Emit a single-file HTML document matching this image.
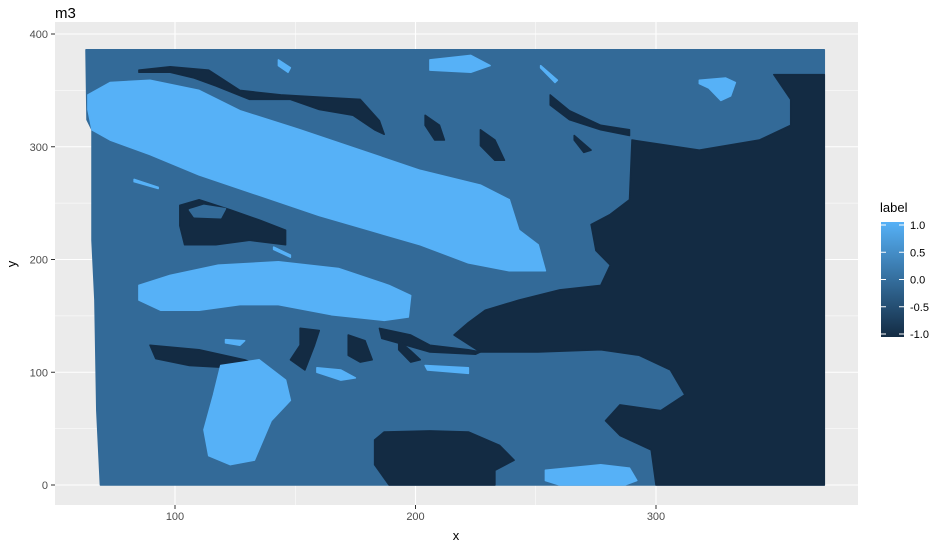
<!DOCTYPE html>
<html><head><meta charset="utf-8"><style>
body{margin:0;background:#fff;font-family:"Liberation Sans",sans-serif}
</style></head><body>
<svg width="947" height="550" xmlns="http://www.w3.org/2000/svg">
<defs><linearGradient id="cb" x1="0" y1="1" x2="0" y2="0"><stop offset="0" stop-color="#132B43"/><stop offset="1" stop-color="#56B1F7"/></linearGradient></defs>
<text x="55" y="18" font-size="15" fill="#000">m3</text>
<rect x="55" y="22" width="803" height="483" fill="#EBEBEB"/>
<g id="grid"></g>
<g id="marks"></g>
<g id="axes"></g>
<text x="456" y="540" font-size="13" text-anchor="middle">x</text>
<text x="16" y="264" font-size="13" text-anchor="middle" transform="rotate(-90 16 264)">y</text>
<g>
<text x="880" y="212" font-size="13">label</text>
<rect x="881" y="222" width="23" height="115" fill="url(#cb)"/>
<g id="legend"></g>
</g>
</svg>
<script>
const xTicks=[100,200,300];
const yTicks=[0,100,200,300,400];
const legendTicks=[1.0,0.5,0.0,-0.5,-1.0];
const legendLabels=["1.0","0.5","0.0","-0.5","-1.0"];
const regionLabels=[0,-1,-1,-1,-1,-1,-1,-1,-1,-1,-1,-1,-1,-1,1,1,1,1,1,1,1,1,1,1,1,1,1,0];
const regions=[
[[63,386],[370,386],[370,0],[69,0],[67.5,66],[66.7,164],[65.5,217],[65.5,315],[63.4,324]],
[[349,364],[370,364],[370,0],[300,0],[298,31],[285,44],[279,57],[285,71],[302,66],[312,80],[306,102],[293,115],[277,120],[251,118],[227,118],[216,133],[222,144],[229,155],[243,164],[260,173],[277,177],[281,195],[275,208],[273,231],[281,240],[289,253],[290,306],[318,297],[343,306],[356,319],[356,342]],
[[185,139],[198,133],[206,124],[222,120],[227,118],[225,116],[206,118],[196,124],[186,130]],
[[183,40],[187,47],[206,48],[222,47],[235,35],[241,22],[233,13],[233,0],[189,0],[183,18]],
[[85,368],[98,371],[114,368],[127,350],[144,346],[160,344],[177,342],[185,323],[187,311],[183,315],[174,328],[160,333],[148,342],[131,342],[117,354],[108,361],[98,366],[85,366]],
[[102,248],[110,253],[123,244],[135,235],[146,226],[146,213],[131,217],[117,213],[104,213],[102,230]],
[[89.6,124],[110,120],[129,111],[135,106],[123,104],[106,106],[92,112]],
[[152,139],[160,137],[158,124],[154,102],[148,111],[152,124]],
[[172,133],[179,128],[182,111],[177,109],[172,115]],
[[193,128],[198,119],[202,111],[198,109],[193,120]],
[[204,328],[210,319],[212,306],[208,306],[204,319]],
[[227,315],[233,306],[237,288],[233,288],[227,301]],
[[256,346],[264,332],[277,319],[289,315],[289,310],[277,315],[264,324],[256,337]],
[[266,310],[273,297],[270,295],[266,306]],
[[63.8,346],[73,357],[89.6,359],[110,350],[127,332],[152,315],[177,297],[202,279],[227,266],[239,253],[243,226],[251,213],[254,190],[239,190],[222,197],[202,213],[181,226],[160,239],[135,257],[110,275],[89.6,293],[73,306],[65.5,315],[63.8,333]],
[[85,177],[98,186],[118,195],[143,198],[168,192],[189,177],[198,168],[197,149],[187,146],[165,151],[143,160],[127,160],[110,155],[94,155],[85,164]],
[[119,106],[135,111],[146,93],[148,75],[140,57],[133,22],[123,18],[114,26],[112,49],[116,80]],
[[254,13],[277,18],[289,15],[292,4],[287,0],[260,0],[254,4]],
[[206,377],[223,381],[231,372],[223,366],[206,368]],
[[318,359],[329,361],[333,357],[331,345],[327,341],[322,352],[318,356]],
[[143,377],[148,370],[147,366],[143,372]],
[[252,372],[259,359],[258,357],[252,370]],
[[159,104],[169,102],[175,95],[169,93],[159,100]],
[[204,106],[222,104],[222,99],[205,102]],
[[121,129],[129,128],[127,124],[121,126]],
[[83,271],[93,264],[93,263],[83,269]],
[[141,211],[148,204],[148,202],[141,209]],
[[106,244],[112,248],[121,245],[119,237],[108,238]]
];
const colorOf=v=>v>0.5?"#56B1F7":(v<-0.5?"#132B43":"#336A98");
const X=d=>175+(d-100)*2.405;
const Y=d=>485-d*1.1275;
const ns="http://www.w3.org/2000/svg";
const grid=document.getElementById('grid'),marks=document.getElementById('marks'),axes=document.getElementById('axes'),leg=document.getElementById('legend');
function line(p,x1,y1,x2,y2,st,w){const l=document.createElementNS(ns,'line');l.setAttribute('x1',x1);l.setAttribute('y1',y1);l.setAttribute('x2',x2);l.setAttribute('y2',y2);l.setAttribute('stroke',st);l.setAttribute('stroke-width',w);p.appendChild(l);return l;}
function txt(p,x,y,s,a){const t=document.createElementNS(ns,'text');t.setAttribute('x',x);t.setAttribute('y',y);t.setAttribute('font-size','11');t.setAttribute('fill','#4D4D4D');t.setAttribute('text-anchor',a);t.textContent=s;p.appendChild(t);return t;}
for(let i=0;i<xTicks.length;i++){const v=xTicks[i];
 const g=line(grid,X(v),22,X(v),505,'#fff',1.1);
 
 
 if(i<xTicks.length-1){const m=line(grid,X(v+50),22,X(v+50),505,'#fff',0.5);
 
 }
 line(axes,X(v),505,X(v),509,'#333',1);
 const t=txt(axes,X(v),520,String(v),'middle');
 
 }
const m0=line(grid,X(50),22,X(50),505,'#fff',0.5);
for(let i=0;i<yTicks.length;i++){const v=yTicks[i];
 const g=line(grid,55,Y(v),858,Y(v),'#fff',1.1);
 
 
 if(i<yTicks.length-1){const m=line(grid,55,Y(v+50),858,Y(v+50),'#fff',0.5);
 
 }
 line(axes,51,Y(v),55,Y(v),'#333',1);
 const t=txt(axes,48,Y(v)+4,String(v),'end');
 
 }
regions.forEach((r,i)=>{const p=document.createElementNS(ns,'polygon');
 p.setAttribute('points',r.map(q=>X(q[0]).toFixed(1)+','+Y(q[1]).toFixed(1)).join(' '));
 p.setAttribute('fill',colorOf(regionLabels[i]));
 p.setAttribute('stroke',colorOf(regionLabels[i]));
 p.setAttribute('stroke-width','1.5');
 p.setAttribute('stroke-linejoin','round');
 
 
 marks.appendChild(p);});
legendTicks.forEach((v,i)=>{const y=222+3+(1-v)/2*109;
 line(leg,881,y,886,y,'#fff',1);line(leg,899,y,904,y,'#fff',1);
 const t=txt(leg,910,y+4,legendLabels[i],'start');t.setAttribute('fill','#000');
 
 });
</script>
</body></html>
